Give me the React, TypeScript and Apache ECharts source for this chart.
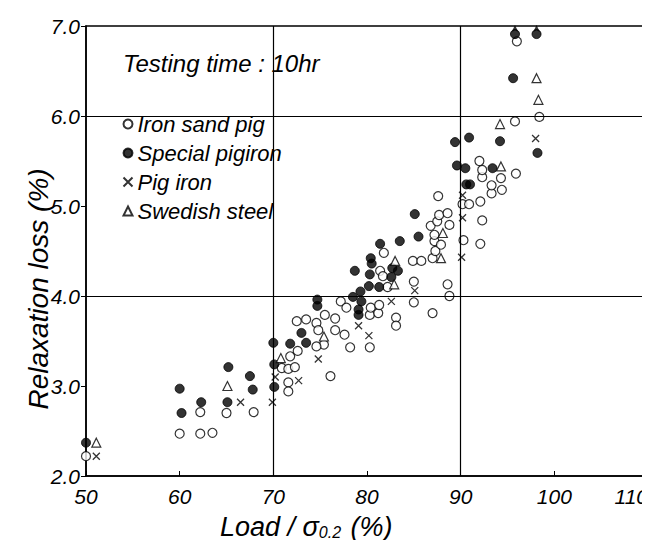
import React, { useEffect, useRef } from "react";
import * as echarts from "echarts";

type Pt = [number, number];

const ironSandPig: Pt[] = [
  [50, 2.22], [60, 2.47], [62.2, 2.47], [63.5, 2.48], [62.2, 2.71], [65, 2.7], [67.9, 2.71],
  [70.9, 3.2], [71.6, 3.19], [72.3, 3.21], [71.6, 3.04], [71.6, 2.94], [71.8, 3.33], [72.6, 3.39],
  [72.5, 3.72], [73.5, 3.74], [74.6, 3.7], [74.8, 3.62], [75.4, 3.46], [74.6, 3.44], [76.1, 3.11],
  [75.5, 3.79], [76.6, 3.75], [77.2, 3.94], [77.8, 3.87], [76.6, 3.62], [77.6, 3.57], [78.2, 3.43],
  [80.3, 3.43], [80.3, 3.79], [80.4, 3.87], [81.2, 3.81], [81.3, 3.9], [83.1, 3.76], [83.1, 3.67],
  [85, 3.93], [85, 4.16], [87, 3.81], [88.6, 4.13], [88.8, 4.0],
  [81.4, 4.28], [82.2, 4.1], [81.8, 4.48], [81.7, 4.22],
  [84.9, 4.39], [85.8, 4.39], [87, 4.42], [87.3, 4.5], [87.2, 4.61], [87.9, 4.57], [87.2, 4.68],
  [86.8, 4.78], [87.5, 4.83], [88.8, 4.79], [87.7, 4.9], [88.6, 4.92], [90.3, 4.62], [92.1, 4.58],
  [92.3, 4.84], [90.2, 5.02], [90.9, 5.02], [92.1, 5.05], [87.6, 5.11], [93.3, 5.14], [94.4, 5.18],
  [93.3, 5.23], [94.3, 5.31], [92.3, 5.32], [92.3, 5.4], [92, 5.5], [95.9, 5.36],
  [95.8, 5.94], [98.4, 5.99], [96, 6.83],
];

const specialPigiron: Pt[] = [
  [50, 2.37], [60, 2.97], [60.2, 2.7], [62.3, 2.82], [65.2, 3.21], [65.1, 2.82], [67.5, 3.11], [67.8, 2.96],
  [70, 3.48], [70.1, 3.24], [70.1, 2.99], [71.8, 3.47], [73, 3.59], [73.5, 3.48],
  [74.7, 3.96], [74.7, 3.89], [78.5, 3.99], [79.3, 4.05], [79.4, 3.94], [79.1, 3.85], [79.1, 3.79],
  [78.7, 4.28], [80.3, 4.24], [80.2, 4.11], [81.3, 4.1], [80.4, 4.42], [80.5, 4.36], [82.7, 4.31],
  [83.3, 4.28], [82.6, 4.21], [81.4, 4.58], [83.5, 4.61], [85.5, 4.66], [85.1, 4.91],
  [89.4, 5.71], [90.9, 5.76], [89.6, 5.45], [90.5, 5.42], [90.6, 5.24], [91, 5.24], [93.4, 5.42],
  [94.2, 5.72], [98.2, 5.59], [95.6, 6.42], [95.8, 6.91], [98.1, 6.91],
];

const pigIron: Pt[] = [
  [51.1, 2.22], [66.5, 2.82], [69.9, 2.82], [70.2, 3.1], [72.7, 3.06], [74.8, 3.3], [79.1, 3.67],
  [80.2, 3.56], [82.6, 3.94], [85.1, 4.06], [90.1, 4.43], [90.2, 4.87], [90.2, 5.12], [98, 5.75],
];

const swedishSteel: Pt[] = [
  [51.1, 2.37], [65.1, 3.0], [70.8, 3.31], [75.4, 3.55], [82.9, 4.13], [83, 4.39], [87.9, 4.42],
  [88.1, 4.7], [94.3, 5.44], [94.2, 5.91], [98.1, 6.42], [98.3, 6.18],
];

// points that exceed the chart (drawn with upward arrows)
const offScale: Pt[] = [[95.8, 6.91], [98.1, 6.91]];

const gridX = [70, 90];
const gridY = [4, 6];

const FONT = "'Liberation Sans Narrow', 'Liberation Sans', 'DejaVu Sans', sans-serif";
const INK = "#000";

const crossPath = "path://M0,0L10,10M10,0L0,10";

export default function App() {
  const ref = useRef<HTMLDivElement>(null);
  useEffect(() => {
    if (!ref.current) return;
    const chart = echarts.init(ref.current, undefined, { renderer: "svg" });
    const openStyle = { color: "#fff", borderColor: INK, borderWidth: 1.2 };
    chart.setOption({
      animation: false,
      backgroundColor: "#fff",
      grid: { left: 78, right: 10, top: 18, bottom: 72, show: true, borderColor: INK, borderWidth: 1.5, backgroundColor: "transparent" },
      title: {
        text: "Testing time : 10hr",
        left: 110,
        top: 38,
        textStyle: { fontFamily: FONT, fontStyle: "italic", fontWeight: "normal", fontSize: 24, color: INK },
      },
      legend: {
        orient: "vertical",
        left: 108,
        top: 100,
        itemGap: 7,
        itemWidth: 9,
        itemHeight: 9,
        data: ["Iron sand pig", "Special pigiron", "Pig iron", "Swedish steel"],
        textStyle: { fontFamily: FONT, fontStyle: "italic", fontSize: 22, color: INK },
      },
      xAxis: {
        type: "value",
        min: 50,
        max: 110,
        interval: 10,
        axisLine: { show: true, lineStyle: { color: INK, width: 1.5 } },
        axisTick: { show: true, inside: true, length: 5, lineStyle: { color: INK } },
        splitLine: { show: false },
        axisLabel: { margin: 10, alignMaxLabel: "right", fontFamily: FONT, fontStyle: "italic", fontSize: 21, color: INK },
      },
      yAxis: {
        type: "value",
        min: 2,
        max: 7,
        interval: 1,
        axisLine: { show: true, lineStyle: { color: INK, width: 1.5 } },
        axisTick: { show: true, length: 5, lineStyle: { color: INK } },
        splitLine: { show: false },
        axisLabel: {
          margin: 6,
          fontFamily: FONT,
          fontStyle: "italic",
          fontSize: 21,
          color: INK,
          formatter: (v: number) => v.toFixed(1),
        },
      },
      graphic: [
        {
          type: "text",
          x: 30,
          y: 281,
          rotation: Math.PI / 2,
          style: {
            text: "Relaxation loss (%)",
            fontFamily: FONT,
            fontStyle: "italic",
            fontSize: 28,
            fill: INK,
            align: "center",
            verticalAlign: "middle",
          },
        },
        {
          type: "text",
          left: 212,
          top: 505,
          style: {
            text: "Load / σ{s|0.2} (%)",
            fontFamily: FONT,
            fontStyle: "italic",
            fontSize: 27,
            fill: INK,
            rich: { s: { fontFamily: FONT, fontStyle: "italic", fontSize: 16, fill: INK, verticalAlign: "bottom", padding: [10, 2, 0, 0] } },
          },
        },
      ],
      series: [
        {
          name: "Iron sand pig",
          type: "scatter",
          symbol: "circle",
          symbolSize: 9,
          itemStyle: openStyle,
          data: ironSandPig,
          z: 3,
          markLine: {
            silent: true,
            symbol: "none",
            label: { show: false },
            lineStyle: { color: INK, type: "solid", width: 1.2 },
            data: [...gridX.map((v) => ({ xAxis: v })), ...gridY.map((v) => ({ yAxis: v }))],
          },
        },
        {
          name: "Special pigiron",
          type: "scatter",
          symbol: "circle",
          symbolSize: 9,
          itemStyle: { color: INK, borderColor: INK, borderWidth: 1 },
          data: specialPigiron,
          z: 4,
        },
        {
          name: "Pig iron",
          type: "scatter",
          symbol: crossPath,
          symbolSize: 7,
          itemStyle: { color: "none", borderColor: INK, borderWidth: 1.3 },
          data: pigIron,
          z: 4,
        },
        {
          name: "Swedish steel",
          type: "scatter",
          symbol: "triangle",
          symbolSize: 9,
          itemStyle: openStyle,
          data: swedishSteel,
          z: 4,
        },
        {
          name: "arrows",
          type: "scatter",
          symbol: "arrow",
          symbolSize: [5, 7],
          symbolOffset: [0, -9],
          itemStyle: { color: INK },
          data: offScale,
          z: 4,
        },
      ],
    });
    return () => chart.dispose();
  }, []);
  return <div ref={ref} style={{ width: 650, height: 540 }} />;
}
